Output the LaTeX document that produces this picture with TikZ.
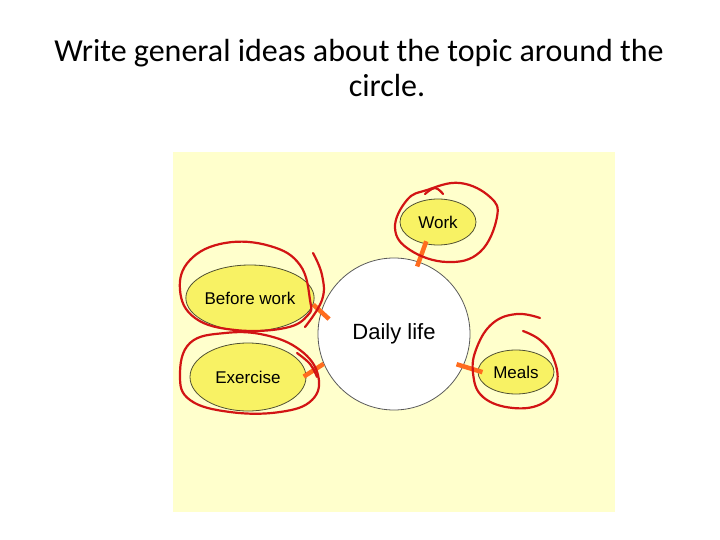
\documentclass[tikz,border=0pt]{standalone}
\usepackage{fontspec}
\setmainfont{Carlito}
\newfontfamily\arialf{Liberation Sans}
\usetikzlibrary{shapes.geometric}
\definecolor{bgyellow}{RGB}{255,255,204}
\definecolor{ellfill}{RGB}{248,242,100}
\definecolor{ellline}{RGB}{80,80,50}
\definecolor{circline}{RGB}{90,90,90}
\definecolor{conncol}{RGB}{255,108,30}
\definecolor{penred}{RGB}{210,20,20}
\begin{document}
\begin{tikzpicture}[x=1pt,y=-1pt,
  idea/.style={ellipse,draw=ellline,line width=0.8pt,fill=ellfill,inner sep=0pt,
    font=\arialf\fontsize{17}{20}\selectfont},
  hub/.style={circle,draw=circline,line width=0.8pt,fill=white,inner sep=0pt,minimum size=152pt,
    font=\arialf\fontsize{22}{26}\selectfont},
  conn/.style={draw=conncol,line width=4.5pt},
  pen/.style={draw=penred,line width=2.2pt,line cap=round,line join=round},
  titletext/.style={font=\fontsize{32}{38}\selectfont,anchor=base,inner sep=0pt}]
\useasboundingbox (0,0) rectangle (720,540);
\fill[white] (0,0) rectangle (720,540);
% title
\node[titletext] (t1) at (359,62) {Write general ideas about the topic around the};
\node[titletext] (t2) at (387,97) {circle.};
% background panel
\fill[bgyellow] (173,152) rectangle (615,512);
% nodes
\node[hub] (dl) at (394,334) {Daily life};
\node[idea,minimum width=76pt,minimum height=46pt] (work) at (438,222) {Work};
\node[idea,minimum width=114pt,minimum height=66pt] (bw) at (250,298) {Before work};
\node[idea,minimum width=116pt,minimum height=68pt] (ex) at (248,377) {Exercise};
\node[idea,minimum width=76pt,minimum height=44pt] (meals) at (516,372) {Meals};
% connectors
\draw[conn,shorten <=-5pt,shorten >=-3pt] (dl.71) -- (work.240);
\draw[conn,shorten >=-11pt] (bw.354) -- (dl.163);
\draw[conn,shorten <=-3pt] (ex.2) -- (dl.203);
\draw[conn,shorten <=-7pt,shorten >=-5pt] (dl.335) -- (meals.178);
% handwritten red loops
\draw[pen] plot[smooth cycle,tension=0.7] coordinates {(427,190) (460,183) (490,197) (497,217) (480,252) (447,262) (410,250) (395,228) (407,200)};
\draw[pen] plot[smooth,tension=0.7] coordinates {(425,194) (435,188) (443,194)};
\draw[pen] plot[smooth cycle,tension=0.7] coordinates {(310,300) (300,265) (270,246) (225,243) (190,260) (180,290) (195,318) (235,330) (285,328) (308,315)};
\draw[pen] plot[smooth,tension=0.7] coordinates {(313,253) (322,275) (322,300) (305,327)};
\draw[pen] plot[smooth cycle,tension=0.7] coordinates {(190,343) (225,333) (265,335) (300,350) (318,375) (312,400) (280,412) (230,412) (190,400) (180,375)};
\draw[pen] plot[smooth,tension=0.7] coordinates {(297,353) (310,364) (317,377)};
\draw[pen] plot[smooth,tension=0.7] coordinates {(540,318) (517,314) (493,323) (477,347) (473,373) (483,397) (513,408) (543,403) (557,383) (553,357) (540,340) (523,331)};
\end{tikzpicture}
\end{document}
